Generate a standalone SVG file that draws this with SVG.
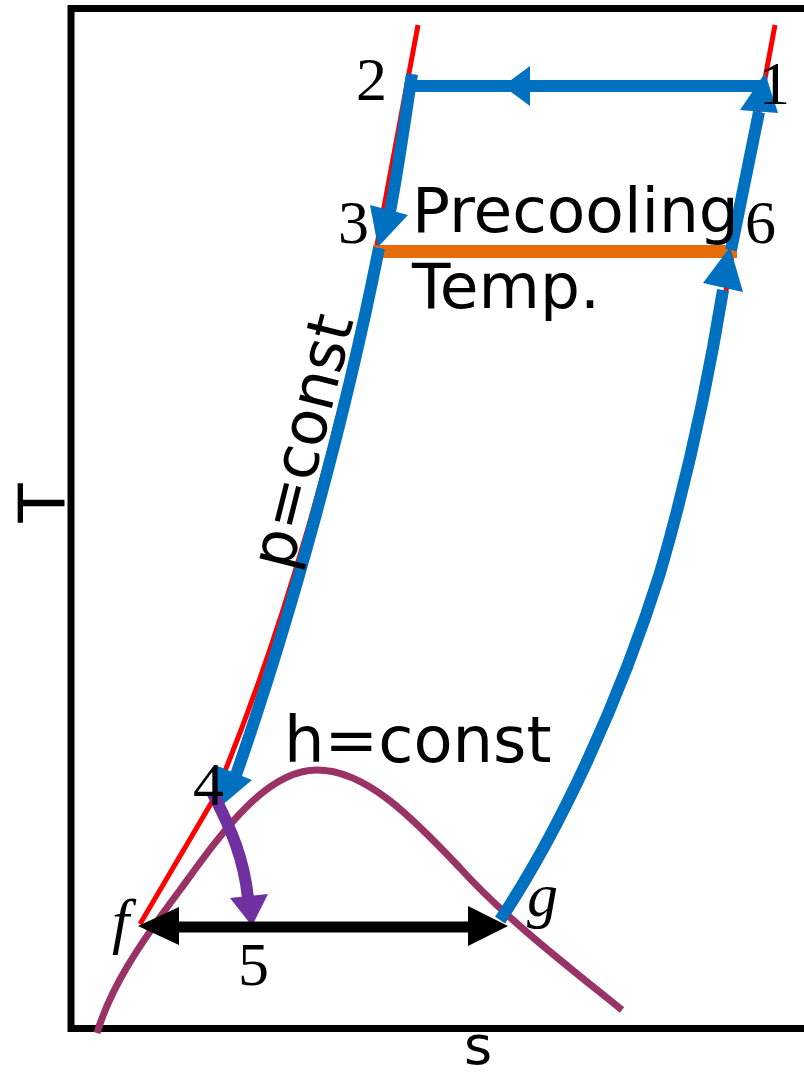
<svg xmlns="http://www.w3.org/2000/svg" width="804" height="1077" viewBox="0 0 804 1077">
<style>
.sans{font-family:"DejaVu Sans","Verdana",sans-serif;fill:#000}
.serif{font-family:"Liberation Serif","Times New Roman",serif;fill:#000}
.blue{fill:none;stroke:#0070C0;stroke-width:12}
.bluef{fill:#0070C0}
.red{fill:none;stroke:#FF0000;stroke-width:5}
</style>
<rect width="804" height="1077" fill="#fff"/>
<g id="axes">
<path d="M804,8.5 L71,8.5 L71,1028.5 L804,1028.5" fill="none" stroke="#000" stroke-width="7"/>
<text class="sans" font-size="64" text-anchor="middle" transform="translate(65,503) rotate(-90)">T</text>
<text class="sans" font-size="54" x="464" y="1064">s</text>
</g>
<g id="saturation-curve">
<path d="M97,1033 C110,990 135,950 180,890 C220,835 265,770 317,770 C365,770 410,815 460,868 C505,918 570,968 622,1010" fill="none" stroke="#993366" stroke-width="7"/>
</g>
<g id="isobars">
<path class="red" d="M418,25 L376,250 C342,422 285,630 213,800 L140,924"/>
<path class="red" d="M775,25 L733,250 C713,370 693,470 663,573 C623,700 563,830 503,922"/>
</g>
<g id="connectors">
<line x1="373" y1="251.5" x2="737" y2="251.5" stroke="#E46C0A" stroke-width="13"/>
<path class="blue" d="M765,86 L405,86"/>
<polygon class="bluef" points="503,86 530,66 530,106"/>
<path class="blue" d="M412,74 C405,120 398,170 390,212"/>
<polygon class="bluef" points="378,247 370,205 408,215"/>
<path class="blue" d="M379,248 C345,420 290,620 236,775"/>
<polygon class="bluef" points="220,807 215,765 252,780"/>
<path class="blue" d="M500,920 C560,830 620,700 660,573 C690,470 710,370 723,290"/>
<polygon class="bluef" points="730,247 703,283 743,292"/>
<path class="blue" d="M731,250 L759,112"/>
<polygon class="bluef" points="765,73 740,110 778,113"/>
<path d="M212,792 C232,830 244,860 248,898" fill="none" stroke="#7030A0" stroke-width="12"/>
<polygon fill="#7030A0" points="252,926 230,898 268,894"/>
<line x1="175" y1="927" x2="472" y2="927" stroke="#000" stroke-width="11"/>
<polygon fill="#000" points="508,926 468,906 468,946"/>
<polygon fill="#000" points="138,926 179,907 179,945"/>
</g>
<g id="labels">
<text class="serif" font-size="62" x="356" y="100">2</text>
<text class="serif" font-size="62" x="759" y="104">1</text>
<text class="serif" font-size="62" x="338" y="243">3</text>
<text class="serif" font-size="62" x="745" y="243">6</text>
<text class="serif" font-size="62" x="193" y="805">4</text>
<text class="serif" font-size="62" x="238" y="985">5</text>
<text class="serif" font-size="62" font-style="italic" x="112" y="942">f</text>
<text class="serif" font-size="62" font-style="italic" x="527" y="916">g</text>
<text class="sans" font-size="63" x="412" y="232">Precooling</text>
<text class="sans" font-size="63" x="412" y="308">Temp.</text>
<text class="sans" font-size="64" x="284" y="762">h=const</text>
<text class="sans" font-size="62" transform="translate(291,572) rotate(-76)">p=const</text>
</g>
</svg>
